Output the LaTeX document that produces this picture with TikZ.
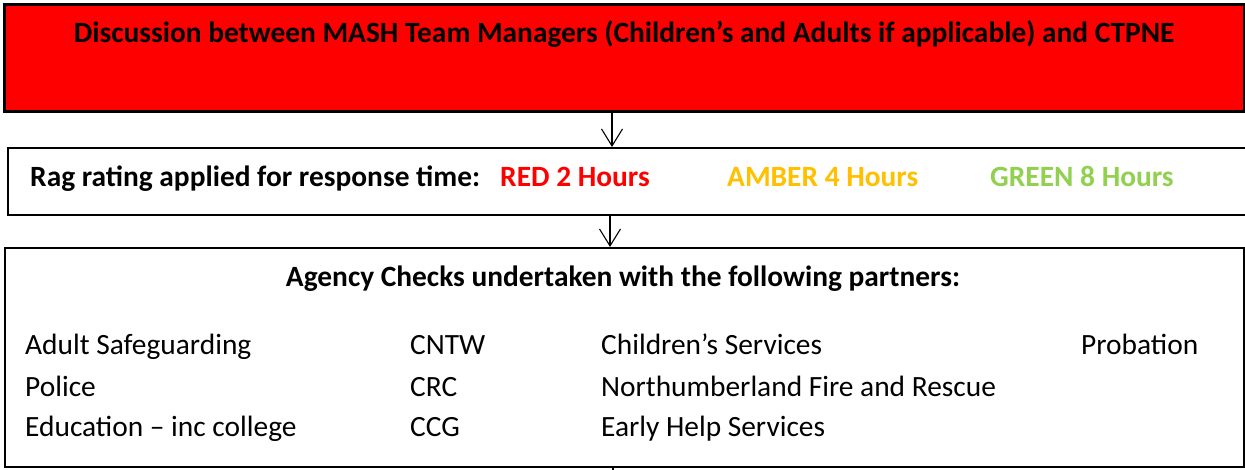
\documentclass[tikz,border=0pt]{standalone}
\usepackage{fontspec}
\setmainfont{Carlito}
\usetikzlibrary{arrows.meta}
\definecolor{ragred}{HTML}{FF0000}
\definecolor{ragamber}{HTML}{FFC000}
\definecolor{raggreen}{HTML}{92D050}
\tikzset{
  flowbox/.style={draw=black, line width=1.6pt, rectangle, inner sep=0pt, anchor=north west},
  flowarrow/.style={line width=1.1pt, -{Straight Barb[length=17pt,width=21pt,line width=1.1pt]}},
  boldtxt/.style={font=\fontsize{29.4}{34}\selectfont\bfseries, inner sep=0pt},
  bodytxt/.style={font=\fontsize{29.4}{34}\selectfont, inner sep=0pt, anchor=base west},
}
\begin{document}
\begin{tikzpicture}[x=1pt,y=-1pt]
\useasboundingbox (0,0) rectangle (1245,470);
\clip (0,0) rectangle (1245,470);
\fill[white] (0,0) rectangle (1245,470);
% boxes
\node[flowbox, fill=ragred, line width=2.6pt, minimum width=1240pt, minimum height=107pt] (red) at (3,3) {};
\node[flowbox, minimum width=1260pt, minimum height=67pt] (rag) at (7,147) {};
\node[flowbox, minimum width=1239pt, minimum height=219pt] (agency) at (4,247) {};
% arrows
\coordinate (c1) at (612,0);
\coordinate (c2) at (610,0);
\coordinate (c3) at (613,0);
\draw[flowarrow] (c1 |- red.south) -- (c1 |- rag.north);
\draw[flowarrow] (c2 |- rag.south) -- (c2 |- agency.north);
\draw[line width=1.1pt] (c3 |- agency.south) -- ++(0,10);
% texts
\node[boldtxt, anchor=base] (t1) at (624,43) {Discussion between MASH Team Managers (Children’s and Adults if applicable) and CTPNE};
\node[boldtxt, anchor=base west] (t2) at (30,187) {Rag rating applied for response time:};
\node[boldtxt, anchor=base west, text=ragred] (t3) at (500,187) {RED 2 Hours};
\node[boldtxt, anchor=base west, text=ragamber] (t4) at (727,187) {AMBER 4 Hours};
\node[boldtxt, anchor=base west, text=raggreen] (t5) at (990,187) {GREEN 8 Hours};
\node[boldtxt, anchor=base] (t6) at (623,287) {Agency Checks undertaken with the following partners:};
\node[bodytxt] (p1) at (25,355) {Adult Safeguarding};
\node[bodytxt] (p2) at (25,396) {Police};
\node[bodytxt] (p3) at (25,436) {Education – inc college};
\node[bodytxt] (p4) at (410,355) {CNTW};
\node[bodytxt] (p5) at (410,396) {CRC};
\node[bodytxt] (p6) at (410,436) {CCG};
\node[bodytxt] (p7) at (601,355) {Children’s Services};
\node[bodytxt] (p8) at (601,396) {Northumberland Fire and Rescue};
\node[bodytxt] (p9) at (601,436) {Early Help Services};
\node[bodytxt] (p10) at (1081,355) {Probation};
\end{tikzpicture}
\end{document}
